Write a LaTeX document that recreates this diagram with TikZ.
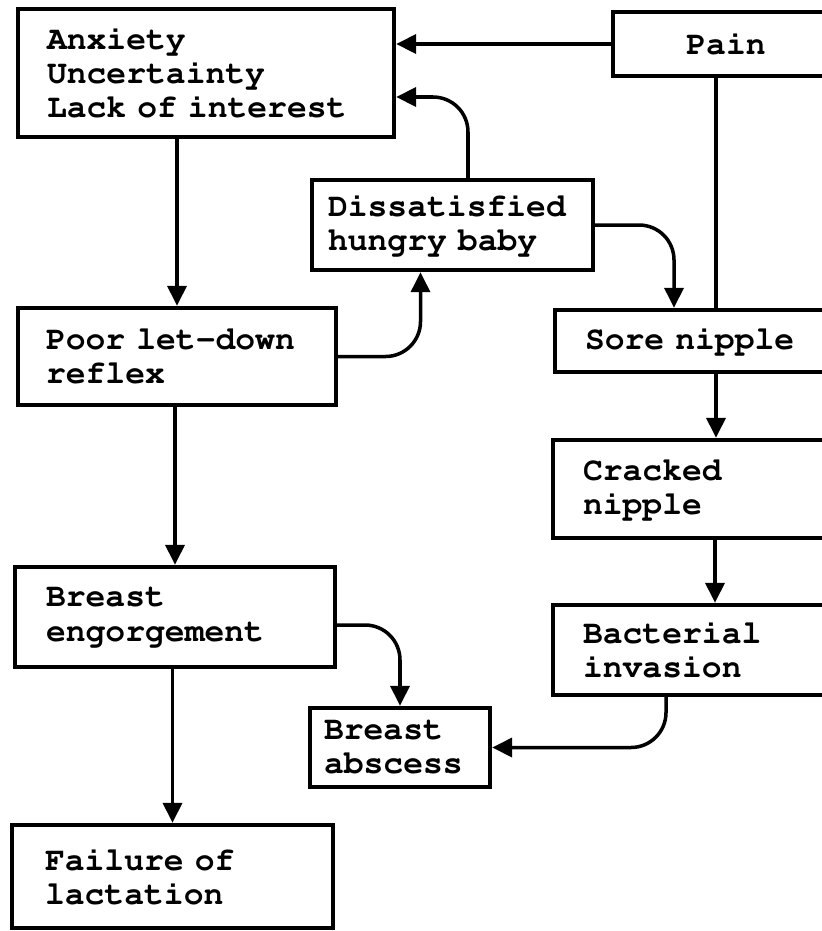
\documentclass[tikz,border=0pt]{standalone}
\usepackage[T1]{fontenc}
\usepackage{courier}
\usetikzlibrary{arrows.meta}

\begin{document}
\begin{tikzpicture}[x=0.02cm, y=-0.02cm,
  box/.style={rectangle, draw=black, line width=2.5pt, align=left, inner ysep=2pt,
    font=\ttfamily\bfseries\fontsize{18.8}{19.4}\selectfont},
  arr/.style={draw=black, line width=2pt, rounded corners=0.7cm, -{Triangle[length=0.4cm, width=0.38cm]}},
  plain/.style={draw=black, line width=2pt},
]
\useasboundingbox (0,0) rectangle (822,931);
\clip (0,0) rectangle (822,931);

\node[box, minimum width=7.52cm, minimum height=2.56cm, text width=6.36cm, inner xsep=0.58cm] (anx) at (206,73) {Anxiety\\Uncertainty\\Lack of interest};
\node[box, align=center, minimum width=4.52cm, minimum height=1.28cm] (pain) at (726,44) {Pain};
\node[box, minimum width=5.62cm, minimum height=1.8cm, text width=4.98cm, inner xsep=0.32cm] (dissat) at (452.5,225) {Dissatisfied\\hungry baby};
\node[box, minimum width=6.36cm, minimum height=1.94cm, text width=5.24cm, inner xsep=0.56cm] (poor) at (177,356.5) {Poor let-down\\reflex};
\node[box, minimum width=6.44cm, minimum height=1.24cm, text width=5.24cm, inner xsep=0.6cm] (sore) at (716,341) {Sore nipple};
\node[box, minimum width=6.48cm, minimum height=1.96cm, text width=5.28cm, inner xsep=0.6cm] (cracked) at (715,489) {Cracked\\nipple};
\node[box, minimum width=6.4cm, minimum height=2cm, text width=5.16cm, inner xsep=0.62cm] (engorge) at (175,617) {Breast\\engorgement};
\node[box, minimum width=6.48cm, minimum height=1.8cm, text width=5.28cm, inner xsep=0.6cm] (bact) at (715,650) {Bacterial\\invasion};
\node[box, minimum width=3.6cm, minimum height=1.58cm, text width=3.04cm, inner xsep=0.28cm] (abscess) at (400,747.5) {Breast\\abscess};
\node[box, minimum width=6.42cm, minimum height=2.06cm, text width=5.1cm, inner xsep=0.66cm] (fail) at (172.5,876.5) {Failure of\\lactation};

\draw[arr] (pain.west) -- (pain.west -| anx.east);
\draw[plain] (pain.south -| sore.north) -- (sore.north);
\draw[arr] (anx.south -| poor.north) -- (poor.north);
\draw[arr] (poor.south -| engorge.north) -- (engorge.north);
\draw[arr] (engorge.south -| fail.north) -- (fail.north);
\draw[arr] (poor.east) -| ([xshift=-0.64cm]dissat.south);
\draw[arr] ([xshift=0.31cm]dissat.north) |- ([yshift=-0.48cm]anx.east);
\draw[arr] (dissat.east) -| ([xshift=-0.84cm]sore.north);
\draw[arr] (sore.south) -- (sore.south |- cracked.north);
\draw[arr] (cracked.south) -- (cracked.south |- bact.north);
\draw[arr] ([yshift=-0.16cm]engorge.east) -| (abscess.north);
\draw[arr] ([xshift=-0.98cm]bact.south) |- (abscess.east);
\end{tikzpicture}
\end{document}
